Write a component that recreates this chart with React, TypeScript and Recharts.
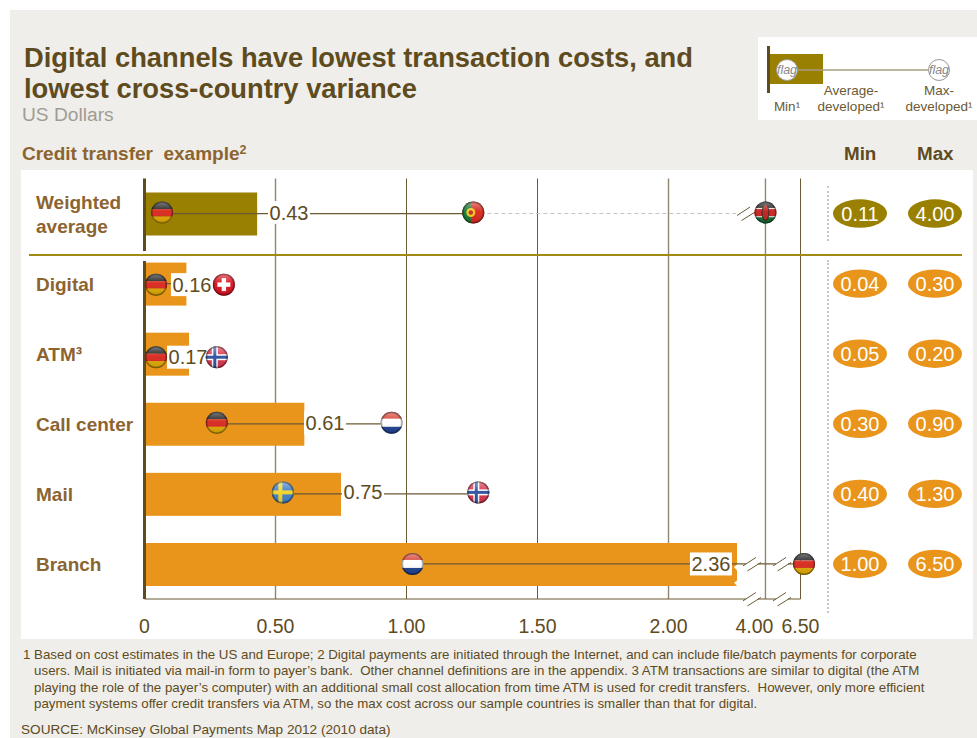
import React from 'react';
import {
  Bar,
  CartesianGrid,
  ComposedChart,
  ReferenceLine,
  Scatter,
  XAxis,
  YAxis,
} from 'recharts';

// values
const rowNames = ['Weighted\naverage', 'Digital', 'ATM³', 'Call center', 'Mail', 'Branch'];
const averages = [0.43, 0.16, 0.17, 0.61, 0.75, 2.36];
const minCosts = ['0.11', '0.04', '0.05', '0.30', '0.40', '1.00'];
const maxCosts = ['4.00', '0.30', '0.20', '0.90', '1.30', '6.50'];

// flags and labels sit where the original put them, not exactly on min/max
const lowFlags = ['de', 'de', 'de', 'de', 'se', 'nl'];
const lowFlagAt = [0.067, 0.044, 0.044, 0.276, 0.528, 1.023];
const highFlags = ['pt', 'ch', 'no', 'nl', 'no', 'de'];
const highFlagAt = [1.255, 0.303, 0.276, 0.943, 1.274, 6.75];
const topFlagAt = [4, null, null, null, null, null];
const labelAt = [0.5515, 0.181, 0.166, 0.689, 0.834, 2.223];

const tickValues = [0, 0.5, 1, 1.5, 2, 4, 6.5];
const tickLabels = ['0', '0.50', '1.00', '1.50', '2.00', '4.00', '6.50'];
const firstBreakAt = [2.88, null, null, null, null, 3.22];
const secondBreakAt = [null, null, null, null, null, 5.18];

const table = rowNames.map((row, i) => ({
  row,
  average: averages[i],
  minCost: minCosts[i],
  maxCost: maxCosts[i],
  lowFlag: lowFlags[i],
  lowFlagAt: lowFlagAt[i],
  highFlag: highFlags[i],
  highFlagAt: highFlagAt[i],
  topFlagAt: topFlagAt[i],
  labelAt: labelAt[i],
  firstBreakAt: firstBreakAt[i],
  secondBreakAt: secondBreakAt[i],
}));

const BROWN = '#5e4b1e';
const LINE = '#6b5a34';
const OLIVE = '#998000';
const ORANGE = '#e9941a';
const TAN = '#8c6430';
const FONT = '"Liberation Sans", Arial, sans-serif';

// broken x axis: 0-2 is linear, then 4.00 and 6.50 are squeezed in
const knotValues = [0, 2, 2.36, 4, 6.5];
const knotShares = [0, 0.7988, 0.9032, 0.9466, 1];

function makeBrokenScale(range: number[] = [0, 1], domain: number[] = [0, 6.5]) {
  const scale: any = (v: number) => {
    let i = 0;
    while (i < knotValues.length - 2 && v > knotValues[i + 1]) i++;
    const t = (v - knotValues[i]) / (knotValues[i + 1] - knotValues[i]);
    const share = knotShares[i] + t * (knotShares[i + 1] - knotShares[i]);
    return range[0] + share * (range[1] - range[0]);
  };
  scale.domain = (d?: number[]) => (d ? makeBrokenScale(range, d) : domain);
  scale.range = (r?: number[]) => (r ? makeBrokenScale(r, domain) : range);
  scale.copy = () => makeBrokenScale(range, domain);
  scale.ticks = () => tickValues;
  return scale;
}

const flagStripes: Record<string, React.ReactNode> = {
  de: (
    <>
      <rect x={-12} y={-12} width={24} height={8.5} fill="#1a1a1a" />
      <rect x={-12} y={-3.5} width={24} height={7.5} fill="#d8261c" />
      <rect x={-12} y={4} width={24} height={8} fill="#e0a800" />
    </>
  ),
  nl: (
    <>
      <rect x={-12} y={-12} width={24} height={8} fill="#d6392c" />
      <rect x={-12} y={-4} width={24} height={8} fill="#ffffff" />
      <rect x={-12} y={4} width={24} height={8} fill="#1c3f8f" />
    </>
  ),
  ch: (
    <>
      <rect x={-12} y={-12} width={24} height={24} fill="#d80f1c" />
      <rect x={-6.5} y={-2.2} width={13} height={4.4} fill="#ffffff" />
      <rect x={-2.2} y={-6.5} width={4.4} height={13} fill="#ffffff" />
    </>
  ),
  no: (
    <>
      <rect x={-12} y={-12} width={24} height={24} fill="#d8324a" />
      <rect x={-12} y={-3} width={24} height={6} fill="#ffffff" />
      <rect x={-5} y={-12} width={6} height={24} fill="#ffffff" />
      <rect x={-12} y={-1.5} width={24} height={3} fill="#2c4f9e" />
      <rect x={-3.5} y={-12} width={3} height={24} fill="#2c4f9e" />
    </>
  ),
  se: (
    <>
      <rect x={-12} y={-12} width={24} height={24} fill="#3f7fc4" />
      <rect x={-12} y={-2} width={24} height={4} fill="#f5d328" />
      <rect x={-4.5} y={-12} width={4} height={24} fill="#f5d328" />
    </>
  ),
  pt: (
    <>
      <rect x={-12} y={-12} width={24} height={24} fill="#d8261c" />
      <rect x={-12} y={-12} width={9.5} height={24} fill="#0f7a34" />
      <circle cx={-2.5} cy={0} r={4.5} fill="#f0c820" />
      <circle cx={-2.5} cy={0} r={2.2} fill="#c8261c" />
    </>
  ),
  ke: (
    <>
      <rect x={-12} y={-12} width={24} height={8} fill="#1a1a1a" />
      <rect x={-12} y={-4} width={24} height={8} fill="#c8201c" />
      <rect x={-12} y={4} width={24} height={8} fill="#0f6a30" />
      <rect x={-12} y={-4.6} width={24} height={0.9} fill="#ffffff" />
      <rect x={-12} y={3.8} width={24} height={0.9} fill="#ffffff" />
      <ellipse cx={0} cy={0} rx={3.4} ry={8} fill="#b8201c" stroke="#1a1a1a" strokeWidth={0.8} />
    </>
  ),
};

// markers in the original are not quite on the bar's centre line
const rowNudges: Record<string, number> = { 'ATM³': 3.5, Digital: 1, 'Call center': -1, Mail: -1.5, 'Weighted\naverage': -1 };
const rowNudge = (row: string) => rowNudges[row] ?? 0;

const Flag = ({ cx, cy, code }: { cx: number; cy: number; code: string }) => (
  <g transform={`translate(${cx},${cy})`}>
    <g clipPath="url(#flagClip)">{flagStripes[code]}</g>
    <circle r={11} fill="url(#flagGloss)" />
    <circle r={11} fill="url(#flagEdge)" />
  </g>
);

const lowFlagShape = (p: any) => <Flag cx={p.cx} cy={p.cy + rowNudge(p.payload.row)} code={p.payload.lowFlag} />;
const highFlagShape = (p: any) => <Flag cx={p.cx} cy={p.cy + rowNudge(p.payload.row)} code={p.payload.highFlag} />;
const topFlagShape = (p: any) =>
  p.payload.topFlagAt == null ? <g /> : <Flag cx={p.cx} cy={p.cy + rowNudge(p.payload.row)} code="ke" />;

const averageLabelShape = (p: any) => {
  const text = p.payload.average.toFixed(2);
  const cy = p.cy + rowNudge(p.payload.row);
  return (
    <g>
      <rect x={p.cx - 21} y={cy - 11.5} width={42} height={23} fill="#fff" />
      <text x={p.cx} y={cy + 7} textAnchor="middle" fontSize={20} fontFamily={FONT} fill={BROWN}>
        {text}
      </text>
    </g>
  );
};

const pillShape = (p: any) => {
  const fill = p.index === 0 ? OLIVE : ORANGE;
  return (
    <g fontFamily={FONT} fontSize={20} fill="#fff" textAnchor="middle">
      <ellipse cx={860} cy={p.cy} rx={27} ry={14.2} fill={fill} />
      <text x={860} y={p.cy + 7}>{p.payload.minCost}</text>
      <ellipse cx={935} cy={p.cy} rx={27} ry={14.2} fill={fill} />
      <text x={935} y={p.cy + 7}>{p.payload.maxCost}</text>
    </g>
  );
};

const Slashes = ({ x, y }: { x: number; y: number }) => (
  <g stroke={LINE} strokeWidth={1}>
    <rect x={x - 6} y={y - 4} width={12} height={8} fill="#fff" stroke="none" />
    <line x1={x - 9} y1={y + 2} x2={x + 4} y2={y - 6.5} />
    <line x1={x - 4.5} y1={y + 7} x2={x + 9} y2={y - 1.5} />
  </g>
);

// the branch row's breaks repeat on the bottom axis, half a row lower
const firstBreakShape = (p: any) =>
  p.payload.firstBreakAt == null ? <g /> : (
    <g>
      <Slashes x={p.cx} y={p.cy} />
      {p.payload.row === 'Branch' && <Slashes x={p.cx} y={p.cy + 35} />}
    </g>
  );
const secondBreakShape = (p: any) =>
  p.payload.secondBreakAt == null ? <g /> : (
    <g>
      <Slashes x={p.cx} y={p.cy} />
      <Slashes x={p.cx} y={p.cy + 35} />
    </g>
  );

const averageBar = (p: any) => {
  const fill = p.index === 0 ? OLIVE : ORANGE;
  const { x, y, width, height } = p;
  if (p.payload.row !== 'Branch') return <rect x={x} y={y} width={width} height={height} fill={fill} />;
  // branch bar runs off the broken axis, so its end is torn
  const r = x + width;
  const pts = [
    [x, y], [r, y], [r, y + height * 0.5], [r - 3, y + height * 0.56], [r, y + height * 0.64],
    [r, y + height * 0.88], [r - 3, y + height * 0.92], [r, y + height], [x, y + height],
  ];
  return <polygon points={pts.map((c) => c.join(',')).join(' ')} fill={fill} />;
};

const RowTick = ({ y, payload }: any) => {
  const parts = String(payload.value).split('\n');
  return (
    <text x={36} y={y + 7 - (parts.length - 1) * 12} fontFamily={FONT} fontSize={19} fontWeight={700} fill={TAN}>
      {parts.map((t, i) => (
        <tspan key={t} x={36} dy={i === 0 ? 0 : 24}>{t}</tspan>
      ))}
    </text>
  );
};

const ValueTick = ({ x, y, payload }: any) => {
  const i = tickValues.indexOf(payload.value);
  return (
    <text x={x + (payload.value === 4 ? -11 : 0)} y={y + 14} textAnchor="middle" fontFamily={FONT} fontSize={19.5} fill={BROWN}>
      {tickLabels[i]}
    </text>
  );
};

const textAt = (left: number, top: number, extra: React.CSSProperties = {}): React.CSSProperties => ({
  position: 'absolute',
  left,
  top,
  whiteSpace: 'pre',
  ...extra,
});

const footnotes = [
  '1 Based on cost estimates in the US and Europe; 2 Digital payments are initiated through the Internet, and can include file/batch payments for corporate',
  '   users. Mail is initiated via mail-in form to payer’s bank.  Other channel definitions are in the appendix. 3 ATM transactions are similar to digital (the ATM',
  '   playing the role of the payer’s computer) with an additional small cost allocation from time ATM is used for credit transfers.  However, only more efficient',
  '   payment systems offer credit transfers via ATM, so the max cost across our sample countries is smaller than that for digital.',
];

const Legend = () => (
  <svg style={{ position: 'absolute', left: 758, top: 37 }} width={219} height={83} fontFamily={FONT}>
    <rect width={219} height={83} fill="#fff" />
    <rect x={12} y={17} width={53} height={30} fill={OLIVE} />
    <rect x={9} y={9} width={3} height={47} fill={BROWN} />
    <line x1={40} y1={33} x2={170} y2={33} stroke="#a89c80" strokeWidth={1.5} />
    {[29, 181].map((cx) => (
      <g key={cx}>
        <circle cx={cx} cy={33} r={10.5} fill="#fff" stroke="#999" />
        <text x={cx} y={37} textAnchor="middle" fontSize={12.5} fontStyle="italic" fill="#888">flag</text>
      </g>
    ))}
    <g fontSize={13.5} fill={LINE} textAnchor="middle">
      <text x={29} y={74}>Min¹</text>
      <text x={93} y={58}>Average-</text>
      <text x={93} y={74}>developed¹</text>
      <text x={181} y={58}>Max-</text>
      <text x={181} y={74}>developed¹</text>
    </g>
  </svg>
);

export default function App() {
  return (
    <div style={{ position: 'absolute', left: 0, top: 0, width: 977, height: 738, background: '#fff', overflow: 'hidden', fontFamily: FONT }}>
      <svg width={0} height={0} style={{ position: 'absolute' }}>
        <defs>
          <clipPath id="flagClip"><circle r={11} /></clipPath>
          <linearGradient id="flagGloss" x1="0" y1="0" x2="0" y2="1">
            <stop offset="0" stopColor="#fff" stopOpacity={0.45} />
            <stop offset="0.45" stopColor="#fff" stopOpacity={0.05} />
            <stop offset="1" stopColor="#000" stopOpacity={0.12} />
          </linearGradient>
          <radialGradient id="flagEdge" cx="0.5" cy="0.5" r="0.5">
            <stop offset="0.8" stopColor="#000" stopOpacity={0} />
            <stop offset="1" stopColor="#000" stopOpacity={0.55} />
          </radialGradient>
        </defs>
      </svg>

      <div style={{ position: 'absolute', left: 10, top: 10, width: 967, height: 728, background: '#efeeea' }} />
      <div style={{ position: 'absolute', left: 21, top: 170, width: 952, height: 469, background: '#fff' }} />

      <div style={textAt(24, 42, { fontSize: 27.3, lineHeight: '31px', fontWeight: 700, color: BROWN })}>
        {'Digital channels have lowest transaction costs, and\nlowest cross-country variance'}
      </div>
      <div style={textAt(22, 104, { fontSize: 19.2, color: '#a09c94' })}>US Dollars</div>
      <div style={textAt(22, 143, { fontSize: 19, fontWeight: 700, color: TAN })}>
        Credit transfer  example<span style={{ fontSize: 12.5, position: 'relative', top: -6 }}>2</span>
      </div>
      <div style={textAt(844, 143, { fontSize: 18.8, fontWeight: 700, color: BROWN })}>Min</div>
      <div style={textAt(917, 143, { fontSize: 18.8, fontWeight: 700, color: BROWN })}>Max</div>
      <Legend />

      <div style={{ position: 'absolute', left: 0, top: 0 }}>
        <ComposedChart
          width={977}
          height={738}
          layout="vertical"
          data={table}
          barSize={43}
          margin={{ top: 178.5, right: 176.5, bottom: 99, left: 0 }}
        >
          <CartesianGrid horizontal={false} verticalValues={[1, 1.5, 6.5]} stroke={LINE} />
          <CartesianGrid horizontal={false} verticalValues={[0.5, 2, 4]} stroke="#8f866f" strokeWidth={1.4} />
          <XAxis
            type="number"
            scale={makeBrokenScale() as any}
            domain={[0, 6.5]}
            ticks={tickValues}
            interval={0}
            tick={<ValueTick />}
            tickSize={0}
            tickMargin={20}
            height={40}
            stroke={LINE}
          />
          <YAxis
            type="category"
            dataKey="row"
            width={144.5}
            allowDuplicatedCategory={false}
            tick={<RowTick />}
            tickLine={false}
            axisLine={{ stroke: BROWN, strokeWidth: 3 }}
            interval={0}
          />
          <Bar dataKey="average" shape={averageBar} isAnimationActive={false} />
          {table.map((d) => (
            <ReferenceLine
              key={d.row}
              segment={[{ x: d.lowFlagAt, y: d.row }, { x: d.highFlagAt, y: d.row }]}
              stroke={LINE}
              strokeWidth={1.3}
              ifOverflow="visible"
            />
          ))}
          <ReferenceLine
            segment={[{ x: highFlagAt[0], y: rowNames[0] }, { x: topFlagAt[0] as number, y: rowNames[0] }]}
            stroke="#c4c4c4"
            strokeDasharray="4 3"
            ifOverflow="visible"
          />
          <Scatter dataKey="labelAt" shape={averageLabelShape} isAnimationActive={false} />
          <Scatter dataKey="firstBreakAt" shape={firstBreakShape} isAnimationActive={false} />
          <Scatter dataKey="secondBreakAt" shape={secondBreakShape} isAnimationActive={false} />
          <Scatter dataKey="lowFlagAt" shape={lowFlagShape} isAnimationActive={false} />
          <Scatter dataKey="highFlagAt" shape={highFlagShape} isAnimationActive={false} />
          <Scatter dataKey="topFlagAt" shape={topFlagShape} isAnimationActive={false} />
          <Scatter dataKey="average" shape={pillShape} isAnimationActive={false} />
        </ComposedChart>
      </div>

      {/* row separator, with the gap it leaves in the value axis */}
      <div style={{ position: 'absolute', left: 141, top: 251, width: 7, height: 10, background: '#fff' }} />
      <div style={{ position: 'absolute', left: 29, top: 254, width: 933, height: 2, background: '#a08a12' }} />
      <div style={{ position: 'absolute', left: 827, top: 186, height: 55, borderLeft: '2px dotted #c8c8c8' }} />
      <div style={{ position: 'absolute', left: 827, top: 260, height: 353, borderLeft: '2px dotted #c8c8c8' }} />

      <div style={textAt(23, 647, { fontSize: 13.3, lineHeight: '16.4px', color: BROWN })}>{footnotes.join('\n')}</div>
      <div style={textAt(21, 722, { fontSize: 13.6, color: BROWN })}>SOURCE: McKinsey Global Payments Map 2012 (2010 data)</div>
    </div>
  );
}
